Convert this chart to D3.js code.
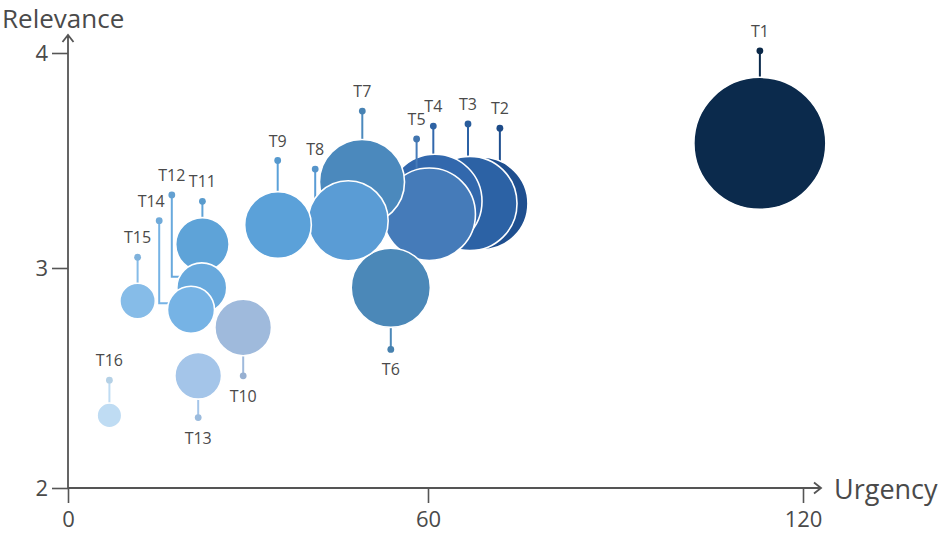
<!DOCTYPE html>
<html>
<head>
<meta charset="utf-8">
<script src="https://cdn.jsdelivr.net/npm/d3@7"></script>
<style>
    html, body { margin: 0; padding: 0; background: #fff; }
    svg { display: block; font-family: "Open Sans", "Noto Sans", sans-serif; }
</style>
</head>
<body>
<svg id="chart"></svg>
<script>
// Topics, bubble centre (urgency / relevance) and bubble weight
const names = ['T1', 'T2', 'T3', 'T4', 'T5', 'T6', 'T7', 'T8',
    'T9', 'T10', 'T11', 'T12', 'T13', 'T14', 'T15', 'T16'];
const urgency = [113.1, 68.6, 66.7, 61.1, 60.2, 53.8, 49.0, 46.7,
    35.0, 29.2, 22.4, 22.3, 21.7, 20.5, 11.6, 6.9];
const relevance = [3.58, 3.30, 3.30, 3.31, 3.25, 2.91, 3.40, 3.22,
    3.20, 2.73, 3.11, 2.91, 2.51, 2.81, 2.85, 2.33];
const weight = [100, 49, 51, 51, 49, 36, 41.5, 36.7,
    25.5, 18.4, 16.4, 14.3, 12.5, 12.7, 7.2, 3.5];

// Where each label pin sits, plus the bend height for the two elbow pins
const labelUrgency = [113.1, 71.5, 66.4, 60.85, 58.1, 53.8, 49.05, 41.2,
    34.95, 29.2, 22.4, 17.3, 21.7, 15.2, 11.6, 6.9];
const labelRelevance = [4.01, 3.65, 3.67, 3.66, 3.60, 2.63, 3.73, 3.46,
    3.50, 2.51, 3.31, 3.34, 2.32, 3.22, 3.05, 2.49];
const elbowRelevance = [null, null, null, null, null, null, null, null,
    null, null, null, 2.96, null, 2.84, null, null];

// Axis ticks
const xTicks = [0, 60, 120];
const yTicks = [2, 3, 4];

const colors = ['#0b2a4c', '#1f4f8f', '#2c62a5', '#3268ad', '#457bb9', '#4b88b8',
    '#4b89bd', '#5a9cd5', '#5ba1d9', '#9fbadc', '#5ea3d8', '#68a9dd',
    '#a4c5e9', '#76b3e5', '#86bce8', '#bfdcf3'];

const W = 945, H = 537;
const axisColor = '#555';
const textColor = '#4a4a4a';

const svg = d3.select('#chart').attr('width', W).attr('height', H);

const x = d3.scaleLinear().domain([0, 60, 120]).range([68, 428, 803]);
const y = d3.scaleLinear().domain([2, 3, 4]).range([488, 268, 53]);
const r = d3.scaleSqrt().domain([0, 100]).range([0, 66]);

const data = names.map((name, i) => ({
    name,
    cx: x(urgency[i]),
    cy: y(relevance[i]),
    r: r(weight[i]),
    lx: x(labelUrgency[i]),
    ly: y(labelRelevance[i]),
    ey: elbowRelevance[i] == null ? null : y(elbowRelevance[i]),
    color: colors[i]
}));

// X axis
const xAxis = svg.append('g')
    .attr('transform', `translate(0,${y(2)})`)
    .call(d3.axisBottom(x).tickValues(xTicks).tickSize(15).tickPadding(8).tickFormat(d3.format('d')));
xAxis.select('.domain').remove();
xAxis.selectAll('line').attr('stroke', axisColor).attr('stroke-width', 1.6);
xAxis.selectAll('text').attr('fill', textColor).style('font-size', '22px')
    .style('font-family', '"Open Sans", sans-serif');

// Y axis
const yAxis = svg.append('g')
    .attr('transform', `translate(${x(0)},0)`)
    .call(d3.axisLeft(y).tickValues(yTicks).tickSize(16).tickPadding(4).tickFormat(d3.format('d')));
yAxis.select('.domain').remove();
yAxis.selectAll('line').attr('stroke', axisColor).attr('stroke-width', 1.6);
yAxis.selectAll('text').attr('fill', textColor).style('font-size', '22px')
    .style('font-family', '"Open Sans", sans-serif');

// Axis lines with open arrow heads
const x0 = x(0), y0 = y(2);
const yTip = 35, xTip = 821;
svg.append('path')
    .attr('d', `M${x0},${y0}V${yTip}M${x0 - 5.5},${yTip + 7}L${x0},${yTip}L${x0 + 5.5},${yTip + 7}`)
    .attr('fill', 'none').attr('stroke', axisColor).attr('stroke-width', 1.8);
svg.append('path')
    .attr('d', `M${x0},${y0}H${xTip}M${xTip - 7},${y0 - 5.5}L${xTip},${y0}L${xTip - 7},${y0 + 5.5}`)
    .attr('fill', 'none').attr('stroke', axisColor).attr('stroke-width', 1.8);

svg.append('text')
    .attr('x', 2).attr('y', 27.5)
    .attr('fill', textColor)
    .style('font-size', '26px')
    .text('Relevance');

svg.append('text')
    .attr('x', 834).attr('y', 499)
    .attr('fill', textColor)
    .style('font-size', '27px')
    .text('Urgency');

// Bubbles: each topic gets its pin then its bubble, in order, so later ones sit on top
const items = svg.append('g').selectAll('g.item')
    .data(data)
    .enter()
    .append('g')
    .attr('class', 'item');

items.append('path')
    .attr('d', d => d.ey == null
        ? `M${d.lx},${d.ly}V${d.cy}`
        : `M${d.lx},${d.ly}V${d.ey}H${d.cx}`)
    .attr('fill', 'none')
    .attr('stroke', d => d.color)
    .attr('stroke-width', 2);

items.append('circle')
    .attr('cx', d => d.cx)
    .attr('cy', d => d.cy)
    .attr('r', d => d.r)
    .attr('fill', d => d.color)
    .attr('stroke', '#fff')
    .attr('stroke-width', 1.6);

items.append('circle')
    .attr('cx', d => d.lx)
    .attr('cy', d => d.ly)
    .attr('r', 3.4)
    .attr('fill', d => d3.color(d.color).darker(0.15));

// Pin labels, above or below the pin head
const labelShift = { T14: -8 };
svg.append('g').selectAll('text')
    .data(data)
    .enter()
    .append('text')
    .attr('x', d => d.lx + (labelShift[d.name] || 0))
    .attr('y', d => d.ly < d.cy ? d.ly - 14 : d.ly + 26)
    .attr('text-anchor', 'middle')
    .attr('fill', textColor)
    .style('font-size', '16px')
    .text(d => d.name);
</script>
</body>
</html>
